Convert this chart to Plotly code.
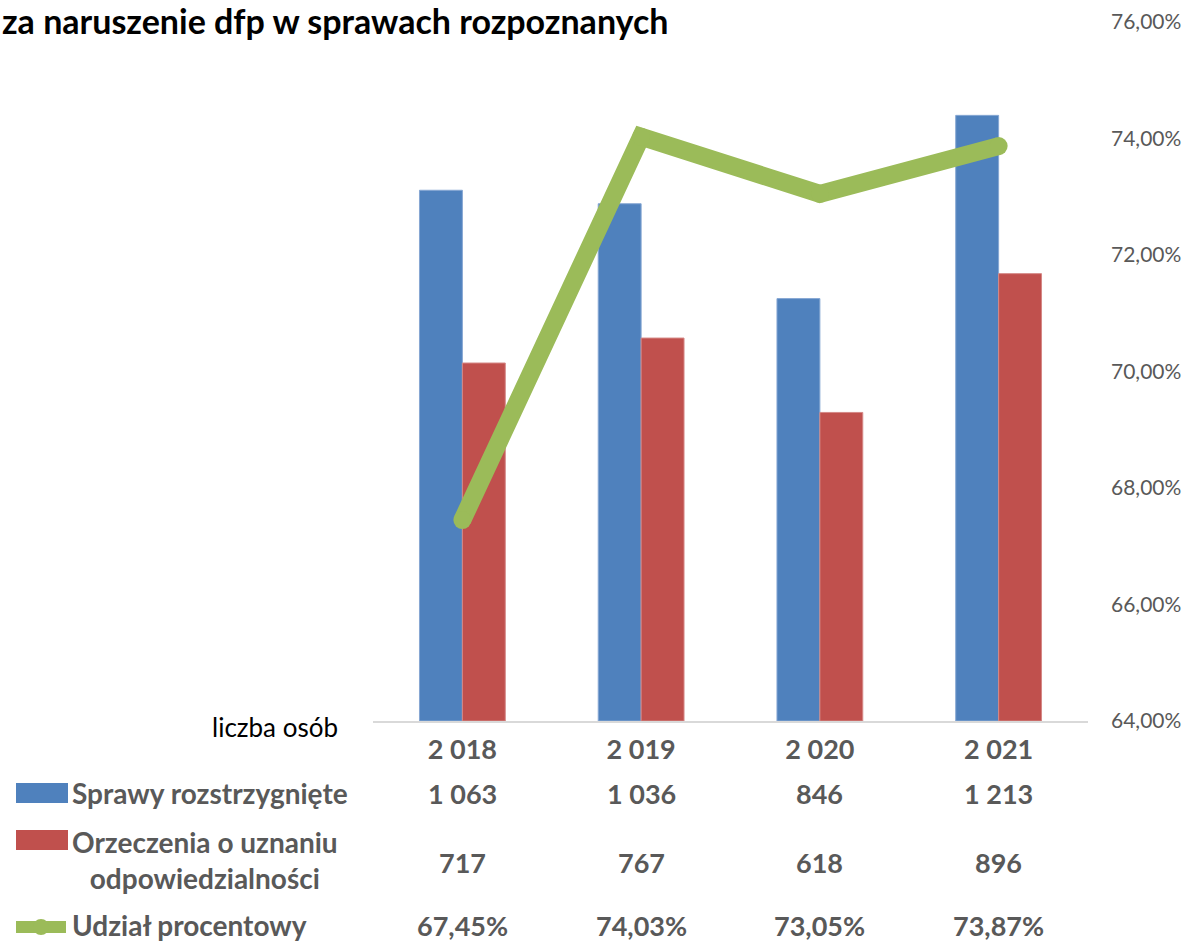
import plotly.graph_objects as go

# ---- data ----
years = ["2 018", "2 019", "2 020", "2 021"]
sprawy = [1063, 1036, 846, 1213]
orzeczenia = [717, 767, 618, 896]
udzial = [0.6745, 0.7403, 0.7305, 0.7387]

row_labels = ["Sprawy rozstrzygnięte",
              "Orzeczenia o uznaniu<br>odpowiedzialności",
              "Udział procentowy"]
title_text = "za naruszenie dfp w sprawach rozpoznanych"
unit_label = "liczba osób"

# ---- style ----
BLUE = "#4F81BD"
RED = "#C0504D"
GREEN = "#9BBB59"
GRAY = "#595959"
FONT = "Lato"

W, H = 1186, 943
L, R, T, B = 373, 1088, 22, 721


def px(p):
    return (p - L) / (R - L)


def py(p):
    return (B - p) / (B - T)


def fmt_int(v):
    return f"{v:,}".replace(",", " ")


def fmt_pct(v):
    return f"{v * 100:.2f}".replace(".", ",") + "%"


fig = go.Figure()
fig.add_bar(x=years, y=sprawy, name=row_labels[0],
            marker=dict(color=BLUE, line=dict(color="#86A7D3", width=1)))
fig.add_bar(x=years, y=orzeczenia, name=row_labels[1],
            marker=dict(color=RED, line=dict(color="#D58886", width=1)))
fig.add_scatter(x=years, y=udzial, yaxis="y2", name=row_labels[2],
                mode="lines+markers",
                line=dict(color=GREEN, width=18),
                marker=dict(size=18, color=GREEN, line=dict(width=0)))

fig.update_layout(
    width=W, height=H,
    margin=dict(l=L, r=W - R, t=T, b=H - B, pad=0, autoexpand=False),
    paper_bgcolor="white", plot_bgcolor="white",
    showlegend=False,
    barmode="group", bargap=0.52, bargroupgap=0,
    separators=", ",
    font=dict(family=FONT, color=GRAY),
    xaxis=dict(showline=True, linecolor="#D9D9D9", linewidth=2,
               showgrid=False, zeroline=False, ticks="", automargin=False,
               tickfont=dict(size=27, color=GRAY, family=FONT, weight="bold"),
               ticklabelstandoff=4),
    yaxis=dict(range=[0, 1400], visible=False, showgrid=False,
               automargin=False),
    yaxis2=dict(range=[0.64, 0.76], dtick=0.02, tickformat=".2%",
                overlaying="y", side="right", showgrid=False,
                showline=False, zeroline=False, ticks="", automargin=False,
                ticklabelstandoff=22,
                tickfont=dict(size=21, color=GRAY, family=FONT)),
)

ann = []
# title
ann.append(dict(x=px(0), y=py(20), xref="paper", yref="paper",
                xanchor="left", yanchor="middle", showarrow=False,
                text=f"<b>{title_text}</b>",
                font=dict(size=34, color="black", family=FONT)))
# unit label
ann.append(dict(x=px(340), y=py(727), xref="paper", yref="paper",
                xanchor="right", yanchor="middle", showarrow=False,
                text=unit_label,
                font=dict(size=26, color="black", family=FONT)))
# row labels
row_y = [793, 860, 925]
for lab, yy in zip(row_labels, row_y):
    ann.append(dict(x=px(70), y=py(yy), xref="paper", yref="paper",
                    xanchor="left", yanchor="middle", showarrow=False,
                    align="center", text=f"<b>{lab}</b>",
                    font=dict(size=28, color=GRAY, family=FONT)))
# values
for i, yr in enumerate(years):
    for txt, yy in ((fmt_int(sprawy[i]), 793),
                    (fmt_int(orzeczenia[i]), 862),
                    (fmt_pct(udzial[i]), 925)):
        ann.append(dict(x=yr, y=py(yy), xref="x", yref="paper",
                        xanchor="center", yanchor="middle", showarrow=False,
                        text=f"<b>{txt}</b>",
                        font=dict(size=27, color=GRAY, family=FONT)))
fig.update_layout(annotations=ann)

# legend keys in the data table
shapes = [
    dict(type="rect", xref="paper", yref="paper",
         x0=px(16), x1=px(68), y0=py(803), y1=py(783),
         fillcolor=BLUE, line=dict(width=0)),
    dict(type="rect", xref="paper", yref="paper",
         x0=px(16), x1=px(68), y0=py(850), y1=py(830),
         fillcolor=RED, line=dict(width=0)),
    dict(type="line", xref="paper", yref="paper",
         x0=px(16), x1=px(66), y0=py(927), y1=py(927),
         line=dict(color=GREEN, width=12)),
    dict(type="circle", xref="paper", yref="paper",
         x0=px(33), x1=px(49), y0=py(935), y1=py(919),
         fillcolor=GREEN, line=dict(width=0)),
]
fig.update_layout(shapes=shapes)

fig.write_html("out.html", config={"displayModeBar": False},
               post_script="document.body.style.margin='0';document.body.style.overflow='hidden';")
